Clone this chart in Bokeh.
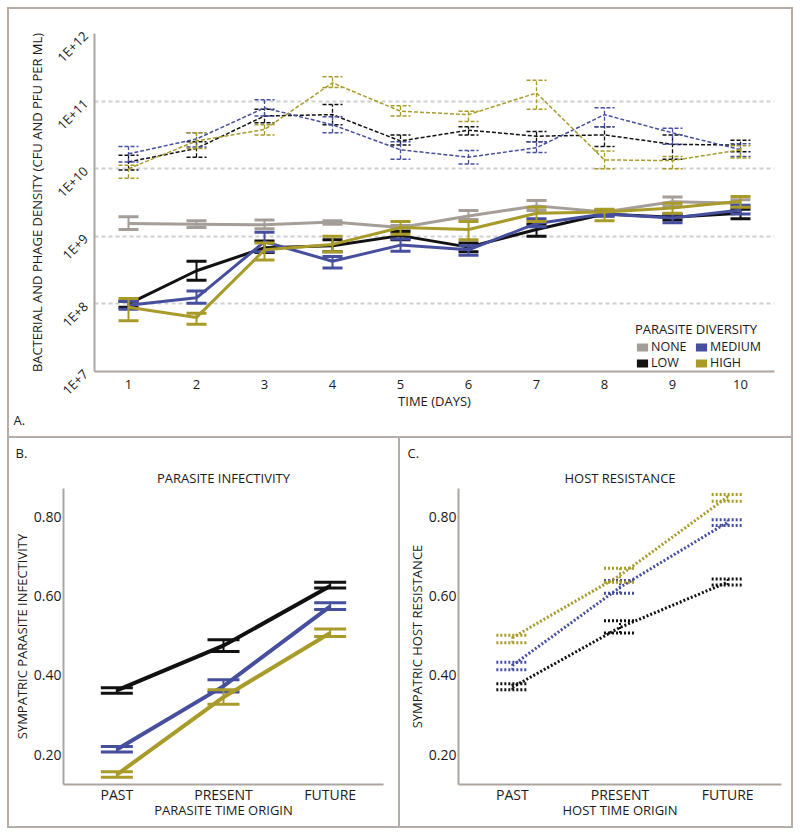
import math
from bokeh.plotting import figure
from bokeh.layouts import column, row
from bokeh.models import (FixedTicker, CustomJSTickFormatter, Range1d, FactorRange, Legend,
                          LegendItem, Title, NumeralTickFormatter)
from bokeh.embed import file_html
from bokeh.resources import INLINE

FONT = "Open Sans"
TXT = "#1a1a1a"
AXC = "#aca59f"
BORDER = "2px solid #b4ada8"

C_NONE = "#a59e98"
C_LOW = "#111111"
C_MED = "#464f9e"
C_HIGH = "#a99b2a"

# ---------------- Panel A data (log10 density) ----------------
days = [1, 2, 3, 4, 5, 6, 7, 8, 9, 10]
y_ticks_a = [1e7, 1e8, 1e9, 1e10, 1e11, 1e12]

# bacteria (CFU/ml), solid lines
bact_none_mean = [9.19, 9.18, 9.17, 9.21, 9.13, 9.30, 9.45, 9.36, 9.51, 9.49]
bact_none_lo = [9.10, 9.13, 9.11, 9.18, 9.10, 9.25, 9.38, 9.33, 9.45, 9.44]
bact_none_hi = [9.29, 9.23, 9.24, 9.23, 9.16, 9.38, 9.53, 9.39, 9.58, 9.54]

bact_low_mean = [8.00, 8.49, 8.83, 8.86, 9.01, 8.84, 9.10, 9.33, 9.28, 9.34]
bact_low_lo = [7.95, 8.35, 8.76, 8.77, 8.95, 8.77, 9.00, 9.30, 9.24, 9.26]
bact_low_hi = [8.04, 8.63, 8.93, 8.95, 9.07, 8.90, 9.18, 9.37, 9.32, 9.40]

bact_med_mean = [7.98, 8.09, 8.92, 8.63, 8.87, 8.80, 9.19, 9.33, 9.27, 9.39]
bact_med_lo = [7.92, 8.01, 8.77, 8.53, 8.78, 8.72, 9.14, 9.30, 9.20, 9.33]
bact_med_hi = [8.04, 8.19, 9.06, 8.70, 8.96, 8.86, 9.26, 9.37, 9.33, 9.46]

bact_high_mean = [7.95, 7.80, 8.80, 8.88, 9.13, 9.10, 9.34, 9.36, 9.42, 9.52]
bact_high_lo = [7.75, 7.70, 8.65, 8.77, 9.03, 8.95, 9.22, 9.23, 9.34, 9.43]
bact_high_hi = [8.08, 7.86, 8.90, 9.00, 9.22, 9.22, 9.43, 9.40, 9.49, 9.59]

# phage (PFU/ml), dashed lines
phage_low_mean = [10.10, 10.30, 10.78, 10.80, 10.41, 10.57, 10.48, 10.50, 10.36, 10.35]
phage_low_lo = [9.98, 10.17, 10.68, 10.65, 10.35, 10.50, 10.40, 10.33, 10.14, 10.25]
phage_low_hi = [10.20, 10.40, 10.88, 10.95, 10.50, 10.62, 10.55, 10.62, 10.50, 10.42]

phage_med_mean = [10.22, 10.44, 10.90, 10.65, 10.28, 10.17, 10.31, 10.80, 10.53, 10.28]
phage_med_lo = [10.10, 10.32, 10.78, 10.53, 10.14, 10.07, 10.24, 10.62, 10.36, 10.18]
phage_med_hi = [10.33, 10.53, 11.02, 10.77, 10.40, 10.27, 10.40, 10.90, 10.60, 10.37]

phage_high_mean = [10.00, 10.41, 10.58, 11.27, 10.85, 10.80, 11.12, 10.13, 10.12, 10.28]
phage_high_lo = [9.86, 10.30, 10.50, 11.20, 10.78, 10.70, 10.88, 10.00, 10.00, 10.16]
phage_high_hi = [10.05, 10.53, 10.65, 11.36, 10.93, 10.85, 11.31, 10.26, 10.18, 10.34]

# ---------------- Panels B & C data ----------------
origins = ["PAST", "PRESENT", "FUTURE"]
y_ticks_bc = [0.2, 0.4, 0.6, 0.8]

inf_low_mean = [0.362, 0.475, 0.625]
inf_low_lo = [0.355, 0.460, 0.620]
inf_low_hi = [0.369, 0.490, 0.635]
inf_med_mean = [0.213, 0.373, 0.574]
inf_med_lo = [0.207, 0.358, 0.566]
inf_med_hi = [0.221, 0.389, 0.583]
inf_high_mean = [0.150, 0.345, 0.507]
inf_high_lo = [0.143, 0.327, 0.498]
inf_high_hi = [0.157, 0.364, 0.517]

res_low_mean = [0.370, 0.521, 0.635]
res_low_lo = [0.364, 0.507, 0.628]
res_low_hi = [0.379, 0.538, 0.643]
res_med_mean = [0.425, 0.622, 0.786]
res_med_lo = [0.414, 0.607, 0.778]
res_med_hi = [0.433, 0.639, 0.792]
res_high_mean = [0.495, 0.652, 0.850]
res_high_lo = [0.482, 0.635, 0.839]
res_high_hi = [0.501, 0.670, 0.856]


def exp10(vals):
    return [10 ** v for v in vals]


def series(p, x, mean, lo, hi, color, lw, wlw, cap, caplw, dash="solid"):
    p.line(x, mean, line_color=color, line_width=lw, line_dash=dash)
    p.segment(x0=x, y0=lo, x1=x, y1=hi, line_color=color, line_width=wlw, line_dash=dash)
    p.dash(x=list(x) + list(x), y=list(lo) + list(hi), size=cap, line_color=color,
           line_width=caplw, line_dash=dash)


def style_axes(p, tick_size):
    for ax in (p.xaxis[0], p.yaxis[0]):
        ax.axis_line_color = AXC
        ax.axis_line_width = 2
        ax.major_tick_line_color = None
        ax.minor_tick_line_color = None
        ax.major_tick_out = 0
        ax.minor_tick_out = 0
        ax.major_label_text_font = FONT
        ax.major_label_text_font_size = tick_size
        ax.major_label_text_color = TXT
        ax.axis_label_text_font = FONT
        ax.axis_label_text_font_size = "13px"
        ax.axis_label_text_font_style = "normal"
        ax.axis_label_text_color = TXT
    p.outline_line_color = None


def corner_title(text, offset, standoff):
    return Title(text=text, align="left", offset=offset, standoff=standoff,
                 text_font=FONT, text_font_size="13px", text_font_style="normal", text_color=TXT)


# ---------------- Panel A ----------------
pA = figure(width=786, height=431, y_axis_type="log", output_backend="svg", toolbar_location=None,
            x_range=Range1d(0.5, 10.5), y_range=Range1d(1e7, 1e12),
            min_border_left=85, min_border_right=21, min_border_top=24, min_border_bottom=69,
            styles={"border": BORDER})
style_axes(pA, "13px")
pA.xaxis.ticker = FixedTicker(ticks=days)
pA.yaxis.ticker = FixedTicker(ticks=y_ticks_a)
pA.yaxis.formatter = CustomJSTickFormatter(code="return '1E+' + Math.round(Math.log10(tick));")
pA.yaxis.major_label_orientation = math.pi / 4
pA.yaxis.major_label_standoff = 9
pA.yaxis.axis_label_standoff = -2
pA.xaxis.major_label_standoff = 8
pA.xaxis.axis_label_standoff = 0
pA.xaxis.axis_label = "TIME (DAYS)"
pA.yaxis.axis_label = "BACTERIAL AND PHAGE DENSITY (CFU AND PFU PER ML)"
pA.xgrid.grid_line_color = None
pA.ygrid.ticker = FixedTicker(ticks=[1e8, 1e9, 1e10, 1e11])
pA.ygrid.grid_line_color = "#cfcfcf"
pA.ygrid.grid_line_width = 2
pA.ygrid.grid_line_dash = "4 3"

for m, lo, hi, c in [(phage_low_mean, phage_low_lo, phage_low_hi, C_LOW),
                     (phage_med_mean, phage_med_lo, phage_med_hi, C_MED),
                     (phage_high_mean, phage_high_lo, phage_high_hi, C_HIGH)]:
    series(pA, days, exp10(m), exp10(lo), exp10(hi), c, 1.5, 1.3, 20, 1.5, dash="4 2")

for m, lo, hi, c in [(bact_none_mean, bact_none_lo, bact_none_hi, C_NONE),
                     (bact_low_mean, bact_low_lo, bact_low_hi, C_LOW),
                     (bact_med_mean, bact_med_lo, bact_med_hi, C_MED),
                     (bact_high_mean, bact_high_lo, bact_high_hi, C_HIGH)]:
    series(pA, days, exp10(m), exp10(lo), exp10(hi), c, 3, 2, 20, 3)

nan = float("nan")
sw = {}
for name, c in [("NONE", C_NONE), ("LOW", C_LOW), ("MEDIUM", C_MED), ("HIGH", C_HIGH)]:
    sw[name] = pA.rect(x=[nan], y=[nan], width=0.1, height=0.1, fill_color=c, line_color=None)

legend_style = dict(label_text_font=FONT, label_text_font_size="12.5px", label_text_color=TXT,
                    glyph_width=14, glyph_height=10, label_height=12, label_width=43, label_standoff=2,
                    spacing=0, padding=0, margin=0, border_line_color=None, background_fill_alpha=0,
                    orientation="horizontal")
legend_top = Legend(items=[LegendItem(label=n, renderers=[sw[n]]) for n in ["NONE", "MEDIUM"]],
                    location=(541, 16), title="PARASITE DIVERSITY",
                    title_text_font=FONT, title_text_font_size="13px", title_text_font_style="normal",
                    title_text_color=TXT, title_standoff=-4, **legend_style)
legend_bottom = Legend(items=[LegendItem(label=n, renderers=[sw[n]]) for n in ["LOW", "HIGH"]],
                       location=(541, 0), **legend_style)
pA.add_layout(legend_top, "center")
pA.add_layout(legend_bottom, "center")
pA.add_layout(corner_title("A.", -81, -7), "below")


# ---------------- Panels B & C ----------------
def panel(title, xlabel, ylabel, width, mb_left, mb_right, corner, corner_offset, styles):
    p = figure(width=width, height=390, x_range=FactorRange(*origins), y_range=Range1d(0.125, 0.871),
               output_backend="svg", toolbar_location=None,
               min_border_left=mb_left, min_border_right=mb_right, min_border_top=50, min_border_bottom=44,
               styles=styles)
    style_axes(p, "14px")
    p.x_range.range_padding = 0
    p.yaxis.ticker = FixedTicker(ticks=y_ticks_bc)
    p.yaxis.formatter = NumeralTickFormatter(format="0.00")
    p.yaxis.major_label_standoff = 2
    p.yaxis.axis_label_standoff = 0
    p.xaxis.major_label_standoff = 0
    p.xaxis.axis_label_standoff = -6
    p.xaxis.axis_label = xlabel
    p.yaxis.axis_label = ylabel
    p.xgrid.grid_line_color = None
    p.ygrid.grid_line_color = None
    p.add_layout(Title(text=title, align="center", standoff=4, text_font=FONT, text_font_size="13px",
                       text_font_style="normal", text_color=TXT), "above")
    p.add_layout(corner_title(corner, corner_offset, 6), "above")
    return p


pB = panel("PARASITE INFECTIVITY", "PARASITE TIME ORIGIN", "SYMPATRIC PARASITE INFECTIVITY", 393, 50, 19,
           "B.", -48, {"border-left": BORDER, "border-right": BORDER, "border-bottom": BORDER})
for m, lo, hi, c in [(inf_low_mean, inf_low_lo, inf_low_hi, C_LOW),
                     (inf_med_mean, inf_med_lo, inf_med_hi, C_MED),
                     (inf_high_mean, inf_high_lo, inf_high_hi, C_HIGH)]:
    series(pB, origins, m, lo, hi, c, 4, 2, 32, 3)

pC = panel("HOST RESISTANCE", "HOST TIME ORIGIN", "SYMPATRIC HOST RESISTANCE", 393, 58, 12,
           "C.", -51, {"border-right": BORDER, "border-bottom": BORDER})
for m, lo, hi, c in [(res_low_mean, res_low_lo, res_low_hi, C_LOW),
                     (res_med_mean, res_med_lo, res_med_hi, C_MED),
                     (res_high_mean, res_high_lo, res_high_hi, C_HIGH)]:
    series(pC, origins, m, lo, hi, c, 3, 2, 32, 3, dash="2 2")

layout = column(pA, row(pB, pC), margin=(7, 0, 0, 7))
open("out.html", "w").write(file_html(layout, INLINE))
